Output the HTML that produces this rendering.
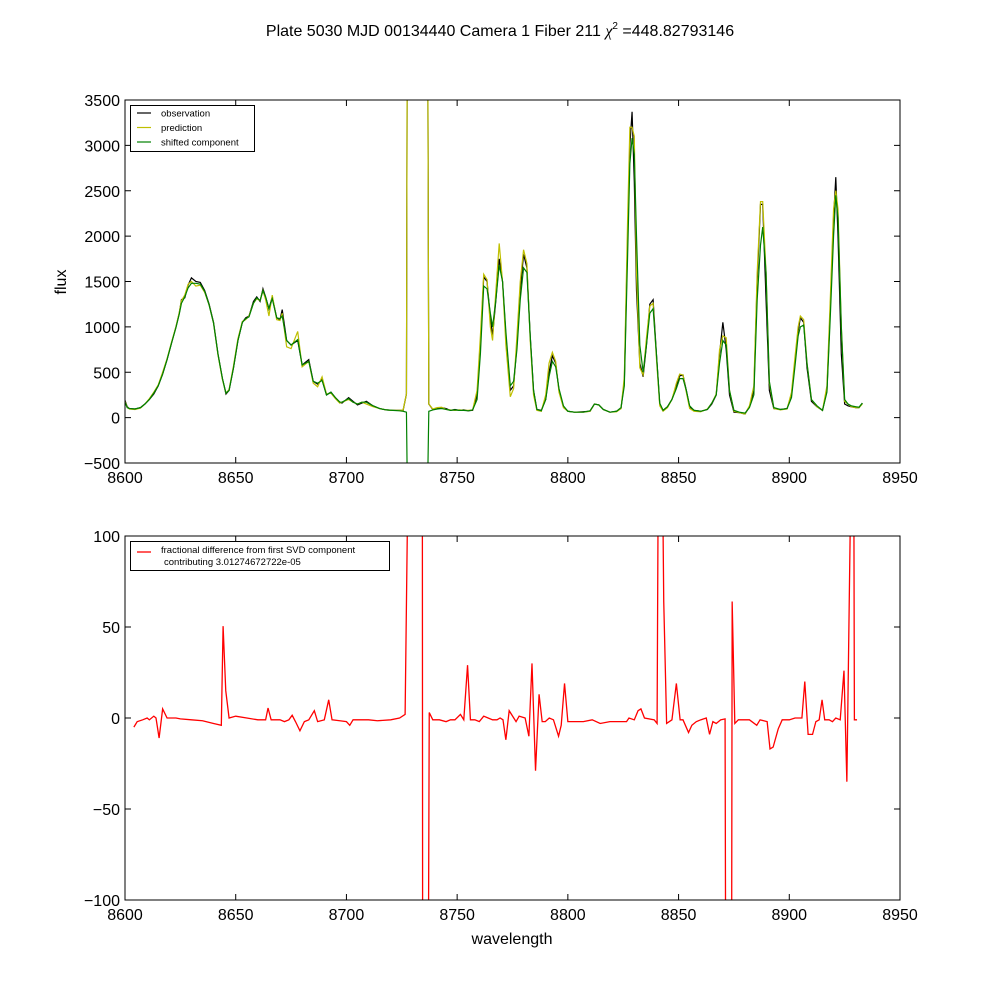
<!DOCTYPE html>
<html><head><meta charset="utf-8">
<style>
html,body{margin:0;padding:0;background:#fff;width:1000px;height:1000px;overflow:hidden;}
svg{display:block;font-family:"Liberation Sans","DejaVu Sans",sans-serif;}
</style></head>
<body>
<svg id="fig" width="1000" height="1000" viewBox="0 0 1000 1000" xmlns="http://www.w3.org/2000/svg">
<rect width="1000" height="1000" fill="#fff"/>
<text x="500" y="36" font-size="16" text-anchor="middle">Plate 5030 MJD 00134440 Camera 1 Fiber 211 <tspan font-family="Liberation Serif,serif" font-style="italic">χ</tspan><tspan font-size="10" dy="-7">2</tspan><tspan dy="7"> =448.82793146</tspan></text>
<defs>
<clipPath id="c1"><rect x="125" y="100" width="775" height="363"/></clipPath>
<clipPath id="c2"><rect x="125" y="536" width="775" height="364"/></clipPath>
</defs>
<g id="topPanel"></g>
<g id="botPanel"></g>
</svg>
<script>
// ---- top panel data ----
const wl = [
8600,8601,8602,8604.5,8607,8609,8611,8613,8615,8617,
8619,8621,8623,8624.5,8625.5,8627,8628.5,8630,8632,8634,
8636,8638,8640,8642,8644,8645.6,8647,8649,8651,8653,
8654.5,8656,8658,8659.5,8661,8662.3,8663.5,8665,8666.5,8668.5,
8670,8671,8673,8675,8678,8680,8683,8685,8687,8689,
8691,8693,8695,8697,8698,8701,8703,8705,8707,8709,
8712,8715,8718,8721,8724,8725.6,8727.1,8727.4,8736.8,8737.2,
8739,8741,8743,8745,8747,8749,8751,8753,8755,8757,
8759,8760.5,8762,8763.5,8765,8766,8767.5,8769,8770.5,8772,
8774,8775.5,8777,8778.5,8780,8781.5,8783,8784.5,8786,8788,
8790,8791.5,8793,8794.5,8796,8798,8800,8803,8807,8810,
8812,8814,8816,8819,8822,8824,8825.5,8827,8828,8829,
8830,8831,8832.5,8834,8835.5,8837,8838.5,8840,8841.5,8843,
8845,8847,8849,8850.5,8852,8853.5,8855,8857,8860,8863,
8865,8867,8868.5,8870,8871.5,8873,8875,8877.5,8880,8882,
8884,8885.5,8887,8888,8889.5,8891,8893,8896,8899,8901,
8902.5,8904,8905,8906.5,8908,8910,8912.5,8915,8917,8918.5,
8920,8921,8922,8923.5,8925,8926.5,8928,8930,8931.5,8933];
const obs = [
190,120,100,95,110,150,200,260,350,480,
640,820,1000,1150,1300,1320,1460,1540,1500,1490,
1400,1250,1050,700,430,260,300,550,850,1050,
1100,1120,1280,1330,1280,1420,1330,1200,1330,1100,
1080,1190,850,800,850,580,640,400,370,420,
250,280,220,170,160,220,180,140,160,180,
130,100,85,80,80,80,260,20000,20000,150,
90,100,110,100,80,90,80,85,75,80,
250,800,1550,1500,1100,900,1300,1750,1500,900,
300,350,800,1400,1800,1650,900,300,90,80,
200,500,680,600,300,120,70,60,65,70,
150,140,90,60,70,100,400,2000,3000,3370,
2600,1400,600,450,800,1250,1300,700,150,80,
120,200,350,460,470,300,120,80,70,90,
150,250,700,1050,750,250,60,55,40,120,
300,1500,2350,2350,1300,300,100,90,100,250,
600,950,1100,1050,550,180,120,80,300,1200,
2200,2650,2000,700,150,130,120,110,110,160];
const pred = [
180,115,95,90,105,150,210,280,360,500,
650,830,1000,1160,1290,1350,1470,1500,1450,1460,
1380,1240,1040,690,420,270,310,570,870,1060,
1080,1120,1260,1310,1290,1400,1300,1120,1350,1080,
1070,1150,780,760,950,560,620,380,340,450,
260,270,210,160,170,200,170,150,170,150,
120,100,85,80,80,85,260,20000,20000,150,
95,110,115,90,85,80,85,80,80,85,
300,900,1580,1520,1000,850,1400,1920,1500,800,
230,320,900,1500,1850,1700,850,250,80,70,
250,600,720,620,280,110,70,60,60,70,
150,140,90,60,65,100,450,2200,3200,3200,
3100,1600,550,470,880,1230,1260,650,130,70,
110,200,380,480,470,280,100,70,65,95,
160,260,750,900,880,300,70,55,40,130,
350,1600,2380,2380,1600,380,100,85,95,280,
650,1000,1120,1080,600,200,120,80,350,1300,
2300,2500,2300,1000,180,150,120,110,110,150];
const shifted = [
170,110,100,95,110,150,200,270,350,480,
640,820,990,1140,1260,1330,1430,1480,1480,1470,
1390,1240,1040,700,430,270,300,550,850,1050,
1090,1110,1260,1320,1290,1400,1330,1200,1310,1100,
1090,1120,850,800,860,580,620,400,380,410,
250,280,220,170,170,210,170,150,170,170,
130,100,85,80,75,70,60,-20000,-20000,70,
85,95,100,90,80,85,80,80,75,85,
200,700,1450,1420,1150,1000,1300,1680,1500,950,
350,400,750,1300,1650,1600,900,300,90,75,
200,450,620,560,320,130,70,60,60,75,
150,140,90,60,70,110,350,1800,2800,3080,
2900,2000,800,500,800,1150,1200,700,160,80,
120,200,320,430,430,300,130,80,70,90,
160,250,600,850,800,300,80,60,50,110,
250,1300,1900,2100,1600,400,110,90,100,220,
550,900,1000,1020,600,200,130,80,280,1100,
2000,2450,2200,1000,200,150,130,120,115,160];
const yTicksTop = [-500,0,500,1000,1500,2000,2500,3000,3500];
const xTicks = [8600,8650,8700,8750,8800,8850,8900,8950];
// ---- bottom panel data ----
const rwl = [8604,8605.5,8608,8610,8611,8613,8614,8615.4,8617,8619,8621,8623,8625,8630,8635,8640,8643.5,8644.3,8645.5,8647,8650,8655,8660,8663.5,8664.6,8666,8670,8672,8674,8675.5,8677,8679,8681,8683,8685.5,8687,8690,8692,8693.5,8697,8700,8701.5,8703,8710,8714,8720,8724,8726.5,8727.5,8734.3,8734.4,8737.1,8737.4,8739,8742,8745,8747,8749,8751.5,8753,8754.7,8756,8758,8760,8762,8764,8766,8768,8769.4,8770.7,8772,8773.5,8776.6,8778,8780.7,8782.4,8783.8,8785.4,8787,8788.4,8789.8,8791.6,8793.5,8795.8,8797,8798.5,8800,8807,8811,8814.6,8819,8826.5,8827.6,8830,8831.7,8833,8834.6,8839,8840.3,8840.7,8843,8843.3,8844.6,8847,8849,8850.7,8852,8854.5,8856,8858,8860,8862.5,8864,8865.5,8867,8869,8871,8871.2,8874,8874.2,8875.4,8877,8880,8882,8885.3,8886.8,8890,8891.3,8892.7,8895,8896.8,8900,8902.6,8905.7,8907,8908.5,8910.5,8912,8913.5,8914.8,8916,8918,8919.5,8921,8923,8924.7,8926,8927.5,8929.2,8929.4,8930.6];
const resid = [-5,-2,-1,0,-1,1,0,-11,5,0,0,0,-0.5,-1,-1.5,-3,-4,50.5,15,0,1,0,-1,-1,5.5,-1,-1,-2,-1,1.5,-2,-7,-2,-1,4,-2,-1,10,-1,-1.5,-2,-4,-1,-1,-1.5,-1,0,2,5000,5000,-5000,-5000,3,-1,-1,-2,-1,-1,2,-1,29,-1,-1,-2,1,0,-1,-1,0,-1,-12,4,-2,1,0,-10,30,-29,13,-2,-2,0,-1,-10,-4,19,-2,-2,-1,-3,-2,-2,0,-1,4,5,0,-1,-3,5000,5000,64,-3,-1,19,-1,-1,-8,-4,-2,-1,0,-9,-2,-3,-1,-0.5,-5000,-5000,64,-3,-1,-1,-1,-4,-1,-2,-17,-16,-6,-1,-1,0,0,20,-9,-9,-2,-1,10,-1,-1,-2,0,-1,26,-35,5000,5000,-1,-1];
const yTicksBot = [-100,-50,0,50,100];

const NS='http://www.w3.org/2000/svg';
const X0=125,X1=900,XMIN=8600,XMAX=8950;
function sx(v){return X0+(v-XMIN)/(XMAX-XMIN)*(X1-X0);}
function syTop(v){return 463-(v+500)/4000*363;}
function syBot(v){return 900-(v+100)/200*364;}
function mk(tag,attrs,parent){const e=document.createElementNS(NS,tag);for(const k in attrs)e.setAttribute(k,attrs[k]);parent.appendChild(e);return e;}
function pathD(xs,ys,fy,ymin,ymax){const n=Math.min(xs.length,ys.length);let d='';for(let i=0;i<n;i++){let y=fy(ys[i]);y=Math.max(ymin,Math.min(ymax,y));d+=(i?'L':'M')+sx(xs[i]).toFixed(2)+','+y.toFixed(2)+' ';}return d;}

function axes(g,y0,y1,yt,fy,name){
  xTicks.forEach(t=>{
    const x=sx(t);
    const a=mk('line',{x1:x,x2:x,y1:y1,y2:y1-6,stroke:'#000','stroke-width':1},g);
    
    
    const b=mk('line',{x1:x,x2:x,y1:y0,y2:y0+6,stroke:'#000','stroke-width':1},g);
    
    
    const tx=mk('text',{x:x,y:y1+20,'font-size':16,'text-anchor':'middle'},g);
    tx.textContent=t;
    
    
  });
  yt.forEach(t=>{
    const y=fy(t);
    const a=mk('line',{x1:X0,x2:X0+6,y1:y,y2:y,stroke:'#000','stroke-width':1},g);
    
    
    const b=mk('line',{x1:X1,x2:X1-6,y1:y,y2:y,stroke:'#000','stroke-width':1},g);
    
    
    const tx=mk('text',{x:X0-5,y:y+6,'font-size':16,'text-anchor':'end'},g);
    tx.textContent=(t<0?'\u2212'+(-t):String(t));
    
    
  });
  const fr=mk('rect',{x:X0,y:y0,width:X1-X0,height:y1-y0,fill:'none',stroke:'#000','stroke-width':1},g);
  
  
}

const topG=document.getElementById('topPanel');
const lg1=mk('g',{'clip-path':'url(#c1)'},topG);
const l1=mk('path',{d:pathD(wl,obs,syTop,95,468),fill:'none',stroke:'#000','stroke-width':1.2},lg1);


const l2=mk('path',{d:pathD(wl,pred,syTop,95,468),fill:'none',stroke:'#bfbf00','stroke-width':1.2},lg1);


const l3=mk('path',{d:pathD(wl,shifted,syTop,95,468),fill:'none',stroke:'#008000','stroke-width':1.2},lg1);


axes(topG,100,463,yTicksTop,syTop,'top-axes');
const yl=mk('text',{x:66,y:282,'font-size':16,'text-anchor':'middle',transform:'rotate(-90 66 282)'},topG);
yl.textContent='flux';


const leg=mk('g',{},topG);


mk('rect',{x:130.5,y:105.5,width:124,height:46,fill:'#fff',stroke:'#000','stroke-width':1},leg);
[['observation','#000'],['prediction','#bfbf00'],['shifted component','#008000']].forEach((e,i)=>{
  const y=113+i*14.5;
  const ln=mk('line',{x1:137,x2:151,y1:y,y2:y,stroke:e[1],'stroke-width':1.2},leg);
  
  
  const t=mk('text',{x:161,y:y+3.5,'font-size':9.5},leg);
  t.textContent=e[0];
  
  
});

const botG=document.getElementById('botPanel');
const lg2=mk('g',{'clip-path':'url(#c2)'},botG);
const r=mk('path',{d:pathD(rwl,resid,syBot,531,905),fill:'none',stroke:'#ff0000','stroke-width':1.3},lg2);


axes(botG,536,900,yTicksBot,syBot,'bottom-axes');
const xl=mk('text',{x:512,y:944,'font-size':16,'text-anchor':'middle'},botG);
xl.textContent='wavelength';


const leg2=mk('g',{},botG);


mk('rect',{x:130.5,y:541.5,width:259,height:29,fill:'#fff',stroke:'#000','stroke-width':1},leg2);
const sw2=mk('line',{x1:137,x2:151,y1:552,y2:552,stroke:'#ff0000','stroke-width':1.3},leg2);


const t1=mk('text',{x:161,y:553,'font-size':9.5},leg2);
t1.textContent='fractional difference from first SVD component';


const t2=mk('text',{x:164,y:565,'font-size':9.5},leg2);
t2.textContent='contributing 3.01274672722e-05';


</script>
</body></html>
